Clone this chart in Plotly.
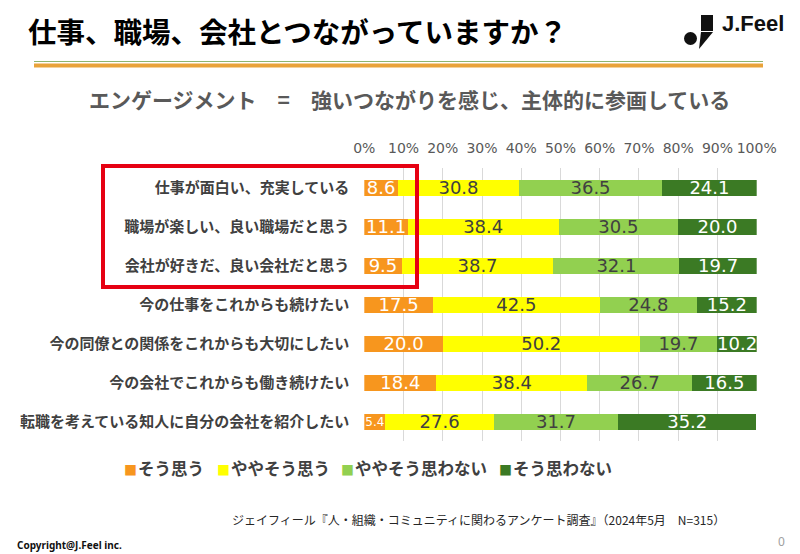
import plotly.graph_objects as go

W, H = 800, 554

categories = [
    "仕事が面白い、充実している",
    "職場が楽しい、良い職場だと思う",
    "会社が好きだ、良い会社だと思う",
    "今の仕事をこれからも続けたい",
    "今の同僚との関係をこれからも大切にしたい",
    "今の会社でこれからも働き続けたい",
    "転職を考えている知人に自分の会社を紹介したい",
]
series_names = ["そう思う", "ややそう思う", "ややそう思わない", "そう思わない"]
so_omou = [8.6, 11.1, 9.5, 17.5, 20.0, 18.4, 5.4]
yaya_so_omou = [30.8, 38.4, 38.7, 42.5, 50.2, 38.4, 27.6]
yaya_so_omowanai = [36.5, 30.5, 32.1, 24.8, 19.7, 26.7, 31.7]
so_omowanai = [24.1, 20.0, 19.7, 15.2, 10.2, 16.5, 35.2]
x_ticks = [0, 10, 20, 30, 40, 50, 60, 70, 80, 90, 100]
x_tick_labels = ["0%", "10%", "20%", "30%", "40%", "50%", "60%", "70%", "80%", "90%", "100%"]

title_text = "仕事、職場、会社とつながっていますか？"
subtitle_text = "エンゲージメント　=　強いつながりを感じ、主体的に参画している"
source_text = "ジェイフィール『人・組織・コミュニティに関わるアンケート調査』（2024年5月　N=315）"
copyright_text = "Copyright@J.Feel inc."
page_no = "0"
logo_text = "J.Feel"

colors = ["#F7961E", "#FFFF00", "#92D050", "#3B7A24"]
text_colors = ["#FFFFFF", "#404040", "#404040", "#FFFFFF"]

JP = "Noto Sans CJK JP"
NUM = "DejaVu Sans"


def fx(x):
    return x / W


def fy(y):
    return 1 - y / H


fig = go.Figure()
all_series = [so_omou, yaya_so_omou, yaya_so_omowanai, so_omowanai]
for name, vals, c, tc in zip(series_names, all_series, colors, text_colors):
    sizes = [18 if v >= 8 else 12 for v in vals]
    fig.add_trace(go.Bar(
        y=categories, x=vals, name=name, orientation="h",
        marker=dict(color=c, line=dict(width=0)),
        text=[f"{v:.1f}" for v in vals],
        textposition="inside", insidetextanchor="middle",
        constraintext="none", textangle=0,
        insidetextfont=dict(family=NUM, size=sizes, color=tc),
        showlegend=False, hoverinfo="skip",
    ))

fig.update_layout(
    width=W, height=H,
    margin=dict(l=0, r=0, t=0, b=0),
    paper_bgcolor="white", plot_bgcolor="white",
    barmode="stack", bargap=0.59,
    title=dict(text="<b>" + title_text + "</b>", x=fx(28), xanchor="left",
               y=fy(33), yanchor="middle", xref="paper", yref="paper",
               font=dict(family=JP, size=28.5, color="#000000")),
    xaxis=dict(domain=[fx(364.3), fx(756.7)], range=[0, 100], side="top",
               tickmode="array", tickvals=x_ticks, ticktext=x_tick_labels, ticks="",
               showgrid=True, gridcolor="#D9D9D9", gridwidth=1,
               zeroline=False, showline=False, fixedrange=True,
               tickfont=dict(family=NUM, size=14, color="#595959"),
               ticklabelstandoff=11, automargin=False),
    yaxis=dict(domain=[fy(441), fy(168)], range=[6.5, -0.5],
               type="category", ticks="", showgrid=False, zeroline=False,
               showline=False, automargin=False,
               tickfont=dict(family=JP, size=15, color="#404040", weight="bold"),
               ticklabelstandoff=14),
)

shapes = []
# header rules
shapes.append(dict(type="line", xref="paper", yref="paper", x0=fx(34), x1=fx(763),
                   y0=fy(61.5), y1=fy(61.5), line=dict(color="#8DB46E", width=1.2)))
shapes.append(dict(type="line", xref="paper", yref="paper", x0=fx(34), x1=fx(763),
                   y0=fy(65.5), y1=fy(65.5), line=dict(color="#E9A33A", width=4)))
# red highlight box
shapes.append(dict(type="rect", xref="paper", yref="paper", x0=fx(103), x1=fx(417),
                   y0=fy(287), y1=fy(166), line=dict(color="#E60012", width=4)))
# logo
shapes.append(dict(type="rect", xref="paper", yref="paper", x0=fx(701), x1=fx(713),
                   y0=fy(31), y1=fy(15), fillcolor="#111111", line=dict(width=0)))
shapes.append(dict(type="circle", xref="paper", yref="paper", x0=fx(684), x1=fx(697),
                   y0=fy(45), y1=fy(32), fillcolor="#111111", line=dict(width=0)))
shapes.append(dict(type="path", xref="paper", yref="paper",
                   path=f"M{fx(701)},{fy(32)} L{fx(713)},{fy(32)} L{fx(699)},{fy(49)} Z",
                   fillcolor="#111111", line=dict(width=0)))
fig.update_layout(shapes=shapes)

ann = []
ann.append(dict(text="<b>" + subtitle_text + "</b>", x=fx(410), y=fy(99),
                xref="paper", yref="paper", xanchor="center", yanchor="middle",
                showarrow=False, font=dict(family=JP, size=21, color="#595959")))
ann.append(dict(text="<b>" + logo_text + "</b>", x=fx(720), y=fy(23),
                xref="paper", yref="paper", xanchor="left", yanchor="middle",
                showarrow=False, font=dict(family="Liberation Sans", size=22, color="#111111")))
# legend
legend_x = [122, 215, 339, 497]
for name, c, lx in zip(series_names, colors, legend_x):
    ann.append(dict(text=f"<span style='color:{c};font-size:13px'>■</span><span style='font-size:4px'> </span><b>{name}</b>",
                    x=fx(lx), y=fy(468), xref="paper", yref="paper",
                    xanchor="left", yanchor="middle", showarrow=False,
                    font=dict(family=JP, size=16.5, color="#404040")))
ann.append(dict(text=source_text, x=fx(727), y=fy(519), xref="paper", yref="paper",
                xanchor="right", yanchor="middle", showarrow=False,
                font=dict(family=JP, size=12, color="#262626")))
ann.append(dict(text="<b>" + copyright_text + "</b>", x=fx(15), y=fy(545),
                xref="paper", yref="paper", xanchor="left", yanchor="middle",
                showarrow=False, font=dict(family="Noto Sans", size=10, color="#111111")))
ann.append(dict(text=page_no, x=fx(787), y=fy(541), xref="paper", yref="paper",
                xanchor="right", yanchor="middle", showarrow=False,
                font=dict(family="Noto Sans", size=12, color="#A0A0A0")))
fig.update_layout(annotations=ann)

fig.write_html("out.html")
